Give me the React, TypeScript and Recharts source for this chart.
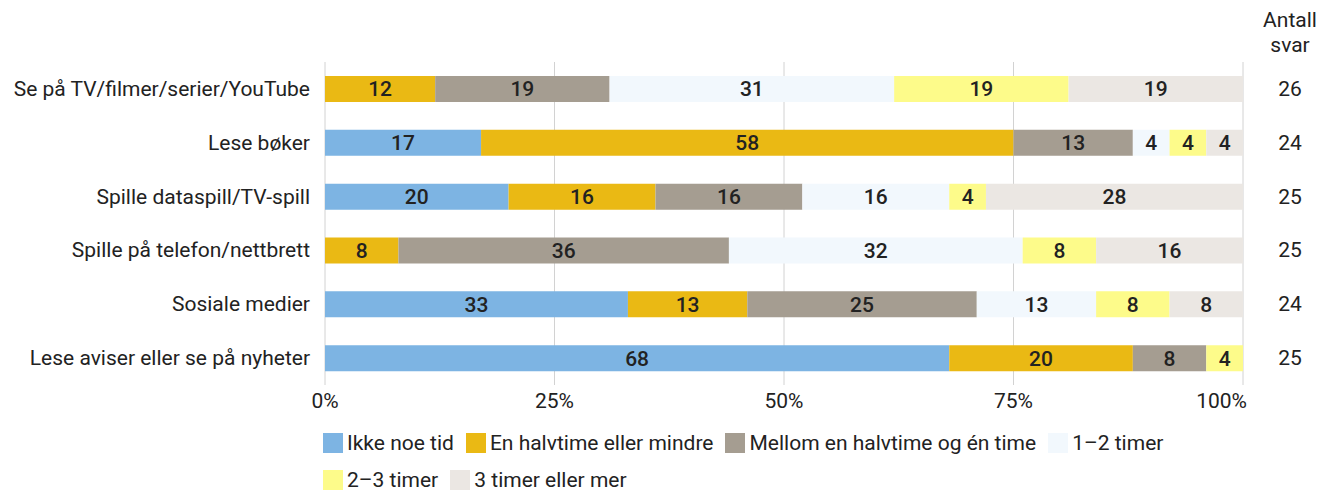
import { BarChart, Bar, XAxis, YAxis, CartesianGrid, Legend, LabelList } from 'recharts';

const categories = [
  'Se på TV/filmer/serier/YouTube',
  'Lese bøker',
  'Spille dataspill/TV-spill',
  'Spille på telefon/nettbrett',
  'Sosiale medier',
  'Lese aviser eller se på nyheter',
];
const ikkeNoeTid = [0, 17, 20, 0, 33, 68];
const halvtimeEllerMindre = [12, 58, 16, 8, 13, 20];
const mellomHalvOgEn = [19, 13, 16, 36, 25, 8];
const enTilToTimer = [31, 4, 16, 32, 13, 0];
const toTilTreTimer = [19, 4, 4, 8, 8, 4];
const treTimerEllerMer = [19, 4, 28, 16, 8, 0];
const antallSvar = [26, 24, 25, 25, 24, 25];
const xTicks = [0, 25, 50, 75, 100];

const series = [
  { key: 'ikke', name: 'Ikke noe tid', values: ikkeNoeTid, color: '#7db4e3' },
  { key: 'halv', name: 'En halvtime eller mindre', values: halvtimeEllerMindre, color: '#eab914' },
  { key: 'mellom', name: 'Mellom en halvtime og én time', values: mellomHalvOgEn, color: '#a59d91' },
  { key: 'en2', name: '1–2 timer', values: enTilToTimer, color: '#f2f8fd' },
  { key: 'to3', name: '2–3 timer', values: toTilTreTimer, color: '#fdfb8a' },
  { key: 'tre', name: '3 timer eller mer', values: treTimerEllerMer, color: '#ebe7e3' },
];

const data = categories.map((name, i) => {
  const row: Record<string, string | number> = { name, n: antallSvar[i] };
  series.forEach((s) => (row[s.key] = s.values[i]));
  return row;
});

const FONT = 'Roboto, sans-serif';
const TEXT = '#222';
const FS = 21;

const CategoryTick = ({ x, y, payload }: any) => (
  <text x={x - 7} y={y} dy={7} textAnchor="end" fontSize={FS} fill={TEXT} fontFamily={FONT}>
    {payload.value}
  </text>
);

const CountTick = ({ x, y, payload }: any) => (
  <text x={x + 39} y={y} dy={7} textAnchor="middle" fontSize={FS} fill={TEXT} fontFamily={FONT}>
    {antallSvar[payload.index]}
  </text>
);

const PctTick = ({ x, y, payload }: any) => {
  const last = payload.value === 100;
  return (
    <text
      x={last ? x + 4 : x}
      y={y}
      dy={15}
      textAnchor={last ? 'end' : 'middle'}
      fontSize={FS}
      fill={TEXT}
      fontFamily={FONT}
    >
      {payload.value}%
    </text>
  );
};

const renderLegend = () => {
  const rows = [series.slice(0, 4), series.slice(4)];
  return (
    <div style={{ fontFamily: FONT, fontSize: FS, color: TEXT }}>
      {rows.map((row, r) => (
        <div key={r} style={{ display: 'flex', height: 37, alignItems: 'center' }}>
          {row.map((s) => (
            <div key={s.key} style={{ display: 'flex', alignItems: 'center', marginRight: 12 }}>
              <span style={{ display: 'inline-block', width: 20, height: 20, background: s.color, marginRight: 4 }} />
              <span>{s.name}</span>
            </div>
          ))}
        </div>
      ))}
    </div>
  );
};

const App = () => (
  <div style={{ position: 'relative', width: 1316, height: 485, fontFamily: FONT }}>
    <div
      style={{
        position: 'absolute',
        left: 1242,
        top: 0,
        width: 80,
        textAlign: 'center',
        fontSize: FS,
        lineHeight: '25px',
        color: TEXT,
      }}
    >
      Antall
      <br />
      svar
    </div>
    <BarChart
      width={1316}
      height={485}
      data={data}
      layout="vertical"
      margin={{ top: 54, right: 0, left: 0, bottom: 78 }}
      barSize={26}
    >
      <CartesianGrid horizontal={false} stroke="#d2d2d2" />
      <XAxis
        type="number"
        domain={[0, 100]}
        ticks={xTicks}
        axisLine={false}
        tickLine={false}
        tick={<PctTick />}
        interval={0}
      />
      <YAxis
        yAxisId="left"
        type="category"
        dataKey="name"
        width={317}
        axisLine={false}
        tickLine={false}
        tick={<CategoryTick />}
        interval={0}
      />
      <YAxis
        yAxisId="right"
        orientation="right"
        type="category"
        dataKey="name"
        width={81}
        axisLine={false}
        tickLine={false}
        tick={<CountTick />}
        interval={0}
      />
      <Legend
        layout="horizontal"
        verticalAlign="middle"
        align="center"
        content={renderLegend}
        wrapperStyle={{ left: 315, top: 416, width: 1000 }}
      />
      {series.map((s) => (
        <Bar
          key={s.key}
          yAxisId="left"
          dataKey={s.key}
          name={s.name}
          stackId="a"
          fill={s.color}
          isAnimationActive={false}
        >
          <LabelList
            dataKey={s.key}
            position="center"
            fill={TEXT}
            fontSize={FS}
            fontWeight={500}
            fontFamily={FONT}
            formatter={(v: any) => (v ? v : '')}
          />
        </Bar>
      ))}
    </BarChart>
  </div>
);

export default App;
